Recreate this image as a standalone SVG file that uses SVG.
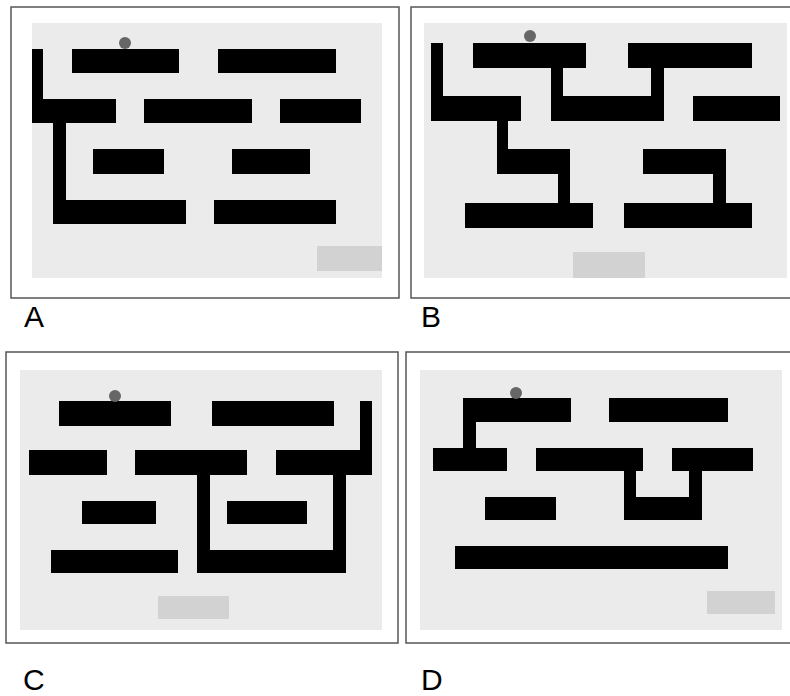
<svg xmlns="http://www.w3.org/2000/svg" width="790" height="696" viewBox="0 0 790 696">
<style>
.frame{fill:#fff;stroke:#555;stroke-width:1.5}
.bg{fill:#ebebeb}
.goal{fill:#d2d2d2}
.wall{fill:#000}
.ball{fill:#666}
.lbl{font-family:"Liberation Sans",Arial,sans-serif;font-size:30px;fill:#000}
</style>
<rect width="790" height="696" fill="#fff"/>
<g id="panelA">
<rect class="frame" x="11" y="7" width="388" height="291"/>
<rect class="bg" x="32" y="23" width="350" height="255"/>
<rect class="goal" x="317" y="246" width="65" height="25"/>
<rect class="wall" x="72" y="49" width="107" height="24"/>
<rect class="wall" x="218" y="49" width="118" height="24"/>
<rect class="wall" x="32" y="49" width="11" height="74"/>
<rect class="wall" x="32" y="99" width="84" height="24"/>
<rect class="wall" x="144" y="99" width="108" height="24"/>
<rect class="wall" x="280" y="99" width="81" height="24"/>
<rect class="wall" x="53" y="123" width="13" height="101"/>
<rect class="wall" x="93" y="149" width="71" height="25"/>
<rect class="wall" x="232" y="149" width="78" height="25"/>
<rect class="wall" x="53" y="200" width="133" height="24"/>
<rect class="wall" x="214" y="200" width="122" height="24"/>
<circle class="ball" cx="125" cy="43" r="6"/>
<text class="lbl" x="24" y="327">A</text>
</g>
<g id="panelB">
<rect class="frame" x="411" y="7" width="385" height="291"/>
<rect class="bg" x="424" y="23" width="363" height="255"/>
<rect class="goal" x="573" y="252" width="72" height="26"/>
<rect class="wall" x="473" y="43" width="113" height="25"/>
<rect class="wall" x="628" y="43" width="124" height="25"/>
<rect class="wall" x="431" y="43" width="12" height="78"/>
<rect class="wall" x="431" y="96" width="90" height="25"/>
<rect class="wall" x="551" y="68" width="12" height="28"/>
<rect class="wall" x="551" y="96" width="113" height="25"/>
<rect class="wall" x="651" y="68" width="13" height="28"/>
<rect class="wall" x="693" y="96" width="87" height="25"/>
<rect class="wall" x="497" y="121" width="11" height="53"/>
<rect class="wall" x="497" y="149" width="73" height="25"/>
<rect class="wall" x="558" y="174" width="12" height="29"/>
<rect class="wall" x="465" y="203" width="128" height="25"/>
<rect class="wall" x="643" y="149" width="83" height="25"/>
<rect class="wall" x="713" y="174" width="13" height="29"/>
<rect class="wall" x="624" y="203" width="128" height="25"/>
<circle class="ball" cx="530" cy="36" r="6"/>
<text class="lbl" x="421" y="327">B</text>
</g>
<g id="panelC">
<rect class="frame" x="6" y="352" width="392" height="291"/>
<rect class="bg" x="20" y="370" width="362" height="260"/>
<rect class="goal" x="158" y="596" width="71" height="23"/>
<rect class="wall" x="59" y="401" width="112" height="25"/>
<rect class="wall" x="212" y="401" width="122" height="25"/>
<rect class="wall" x="360" y="401" width="12" height="74"/>
<rect class="wall" x="29" y="450" width="78" height="25"/>
<rect class="wall" x="135" y="450" width="112" height="25"/>
<rect class="wall" x="276" y="450" width="96" height="25"/>
<rect class="wall" x="197" y="475" width="13" height="98"/>
<rect class="wall" x="333" y="475" width="13" height="98"/>
<rect class="wall" x="197" y="550" width="149" height="23"/>
<rect class="wall" x="82" y="501" width="74" height="23"/>
<rect class="wall" x="227" y="501" width="80" height="23"/>
<rect class="wall" x="51" y="550" width="127" height="23"/>
<circle class="ball" cx="115" cy="396" r="6"/>
<text class="lbl" x="23" y="690">C</text>
</g>
<g id="panelD">
<rect class="frame" x="406" y="352" width="390" height="291"/>
<rect class="bg" x="420" y="370" width="362" height="260"/>
<rect class="goal" x="707" y="591" width="68" height="23"/>
<rect class="wall" x="463" y="398" width="108" height="24"/>
<rect class="wall" x="463" y="422" width="13" height="26"/>
<rect class="wall" x="433" y="448" width="74" height="23"/>
<rect class="wall" x="609" y="398" width="119" height="24"/>
<rect class="wall" x="536" y="448" width="107" height="23"/>
<rect class="wall" x="672" y="448" width="81" height="23"/>
<rect class="wall" x="624" y="471" width="12" height="49"/>
<rect class="wall" x="689" y="471" width="13" height="49"/>
<rect class="wall" x="624" y="497" width="78" height="23"/>
<rect class="wall" x="485" y="497" width="71" height="23"/>
<rect class="wall" x="455" y="546" width="273" height="23"/>
<circle class="ball" cx="516" cy="393" r="6"/>
<text class="lbl" x="421" y="690">D</text>
</g>
</svg>
